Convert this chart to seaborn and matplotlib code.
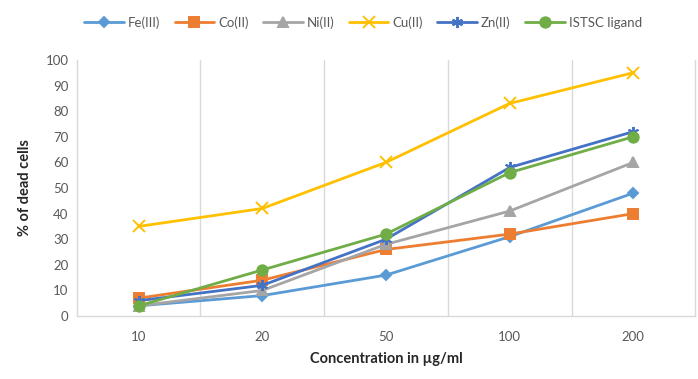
import matplotlib
matplotlib.use("Agg")
import matplotlib.pyplot as plt
import seaborn as sns
import pandas as pd

concentrations = ["10", "20", "50", "100", "200"]
fe_iii = [4, 8, 16, 31, 48]
co_ii = [7, 14, 26, 32, 40]
ni_ii = [4, 10, 28, 41, 60]
cu_ii = [35, 42, 60, 83, 95]
zn_ii = [6, 12, 30, 58, 72]
istsc_ligand = [4, 18, 32, 56, 70]

series_names = ["Fe(III)", "Co(II)", "Ni(II)", "Cu(II)", "Zn(II)", "ISTSC ligand"]
series_values = [fe_iii, co_ii, ni_ii, cu_ii, zn_ii, istsc_ligand]
colors = ["#5B9BD5", "#ED7D31", "#A5A5A5", "#FFC000", "#4472C4", "#70AD47"]
markers = ["D", "s", "^", "x", (6, 2, 0), "o"]
marker_sizes = [5, 6.5, 6.5, 8, 8, 7.5]

rows = []
for name, vals in zip(series_names, series_values):
    for i, v in enumerate(vals):
        rows.append({"pos": i, "value": v, "series": name})
df = pd.DataFrame(rows)

sns.set_theme(style="white")
plt.rcParams["font.family"] = ["Lato", "DejaVu Sans"]

fig = plt.figure(figsize=(6.98, 3.79), dpi=100)
ax = fig.add_axes([0.110, 0.166, 0.886, 0.676])

for name, color, mk, ms in zip(series_names, colors, markers, marker_sizes):
    sub = df[df["series"] == name]
    sns.lineplot(data=sub, x="pos", y="value", ax=ax, color=color, marker=mk,
                 markersize=ms, markeredgecolor=color, markeredgewidth=1.4,
                 linewidth=2, label=name, legend=False)

ax.set_xlim(-0.5, len(concentrations) - 0.5)
ax.set_ylim(0, 100)
ax.set_yticks(range(0, 101, 10))
ax.set_xticks(range(len(concentrations)))
ax.set_xticklabels(concentrations)
ax.tick_params(axis="both", length=0, labelsize=9.5, labelcolor="#595959")
ax.tick_params(axis="x", pad=11)
ax.tick_params(axis="y", pad=6)

# vertical separators between categories
for b in [0.5, 1.5, 2.5, 3.5]:
    ax.axvline(b, color="#D9D9D9", linewidth=1, zorder=0)

for side in ["left", "right", "bottom"]:
    ax.spines[side].set_color("#D9D9D9")
    ax.spines[side].set_linewidth(1)
ax.spines["top"].set_visible(False)

ax.set_xlabel("Concentration in µg/ml", fontsize=10.5, fontweight="bold", labelpad=6)
ax.set_ylabel("% of dead cells", fontsize=10.5, fontweight="bold", labelpad=10)

handles, labels = ax.get_legend_handles_labels()
fig.legend(handles, labels, loc="center", bbox_to_anchor=(0.52, 0.94), ncol=6,
           frameon=False, fontsize=9.5, handlelength=3, columnspacing=1.1,
           handletextpad=0.3, labelcolor="#595959")

fig.savefig("out.png", dpi=100)
